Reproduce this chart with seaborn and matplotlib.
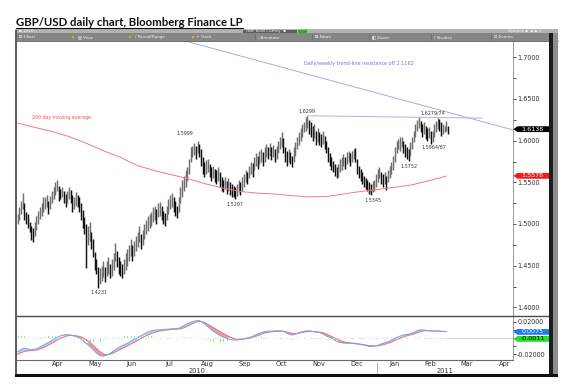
"""
GBP/USD daily bar chart with 200 day moving average and MACD panel
"""

import numpy as np
import pandas as pd
import matplotlib
matplotlib.use('Agg')
import matplotlib.pyplot as plt
import matplotlib.transforms as mtransforms
from matplotlib.patches import Rectangle, Polygon
from matplotlib.lines import Line2D
import seaborn as sns

# ---------------- data ----------------
start_date = '2010-03-15'

highs = [
    1.512, 1.520, 1.528, 1.537, 1.525, 1.515, 1.512, 1.503, 1.498, 1.495, 1.502, 1.510, 1.516,
    1.520, 1.525, 1.532, 1.532, 1.535, 1.528, 1.534, 1.540, 1.545, 1.550, 1.553, 1.546, 1.542, 1.545, 1.540, 1.536, 1.540, 1.545, 1.541, 1.535, 1.532, 1.538,
    1.535, 1.532, 1.525, 1.517, 1.508, 1.500, 1.498, 1.503, 1.490, 1.482, 1.466, 1.458, 1.448, 1.447, 1.450, 1.455, 1.448, 1.456, 1.460, 1.452, 1.458,
    1.465, 1.477, 1.468, 1.460, 1.455, 1.452, 1.458, 1.465, 1.470, 1.475, 1.482, 1.475, 1.480, 1.485, 1.490, 1.497, 1.488, 1.493, 1.500, 1.505, 1.510, 1.512,
    1.515, 1.520, 1.522, 1.518, 1.525, 1.527, 1.522, 1.516, 1.513, 1.522, 1.530, 1.535, 1.537, 1.532, 1.528, 1.522, 1.532, 1.545, 1.553, 1.558, 1.565, 1.568,
    1.578, 1.592, 1.594, 1.597, 1.594, 1.600, 1.596, 1.590, 1.580, 1.574, 1.577, 1.578, 1.572, 1.568, 1.570, 1.566, 1.565, 1.568, 1.562, 1.557, 1.553, 1.556,
    1.552, 1.555, 1.550, 1.548, 1.546, 1.545, 1.548, 1.553, 1.550, 1.556, 1.560, 1.565, 1.562, 1.570, 1.575, 1.573, 1.580, 1.585, 1.582, 1.588, 1.590, 1.586,
    1.592, 1.596, 1.593, 1.597, 1.592, 1.595, 1.590, 1.594, 1.600, 1.605, 1.610, 1.603, 1.592, 1.588, 1.590, 1.586, 1.582, 1.592, 1.598, 1.605, 1.610,
    1.615, 1.620, 1.622, 1.628, 1.630, 1.625, 1.622, 1.618, 1.620, 1.612, 1.615, 1.610, 1.608, 1.612, 1.606, 1.600, 1.592, 1.585, 1.580, 1.576, 1.572, 1.568,
    1.572, 1.578, 1.580, 1.584, 1.580, 1.586, 1.588, 1.585, 1.588, 1.590, 1.591, 1.578, 1.570, 1.566, 1.562, 1.558, 1.555, 1.553, 1.550, 1.548, 1.552, 1.553, 1.560,
    1.566, 1.568, 1.563, 1.560, 1.562, 1.558, 1.565, 1.570, 1.575, 1.582, 1.592, 1.600, 1.602, 1.604, 1.604, 1.600, 1.596, 1.592, 1.590, 1.598, 1.605,
    1.612, 1.620, 1.625, 1.6279, 1.624, 1.620, 1.622, 1.618, 1.615, 1.617, 1.612, 1.612, 1.620, 1.624, 1.6274, 1.626, 1.622, 1.620, 1.618, 1.624, 1.618,
]
lows = [
    1.500, 1.505, 1.512, 1.518, 1.505, 1.500, 1.495, 1.490, 1.481, 1.478, 1.485, 1.493, 1.500,
    1.506, 1.510, 1.514, 1.518, 1.520, 1.512, 1.518, 1.525, 1.530, 1.535, 1.540, 1.528, 1.530, 1.532, 1.525, 1.520, 1.525, 1.530, 1.525, 1.515, 1.518, 1.522,
    1.520, 1.515, 1.505, 1.495, 1.488, 1.447, 1.475, 1.480, 1.470, 1.460, 1.445, 1.440, 1.4231, 1.428, 1.432, 1.436, 1.430, 1.438, 1.440, 1.435, 1.438,
    1.445, 1.455, 1.448, 1.440, 1.437, 1.435, 1.440, 1.445, 1.450, 1.455, 1.462, 1.455, 1.462, 1.468, 1.472, 1.478, 1.470, 1.475, 1.482, 1.488, 1.492, 1.495,
    1.498, 1.502, 1.505, 1.500, 1.508, 1.510, 1.505, 1.500, 1.498, 1.505, 1.512, 1.518, 1.520, 1.515, 1.510, 1.507, 1.515, 1.525, 1.532, 1.540, 1.545, 1.552,
    1.560, 1.575, 1.580, 1.583, 1.578, 1.585, 1.580, 1.570, 1.560, 1.556, 1.560, 1.562, 1.556, 1.552, 1.555, 1.550, 1.548, 1.552, 1.545, 1.540, 1.538, 1.542,
    1.536, 1.540, 1.535, 1.532, 1.533, 1.5297, 1.534, 1.538, 1.535, 1.540, 1.545, 1.550, 1.548, 1.555, 1.560, 1.557, 1.565, 1.570, 1.566, 1.572, 1.575, 1.570,
    1.575, 1.580, 1.578, 1.582, 1.577, 1.580, 1.575, 1.578, 1.585, 1.590, 1.592, 1.585, 1.575, 1.570, 1.575, 1.572, 1.568, 1.575, 1.582, 1.590, 1.595,
    1.600, 1.605, 1.610, 1.612, 1.615, 1.608, 1.605, 1.600, 1.603, 1.595, 1.598, 1.595, 1.592, 1.596, 1.590, 1.585, 1.575, 1.570, 1.565, 1.562, 1.558, 1.555,
    1.557, 1.562, 1.565, 1.570, 1.566, 1.572, 1.575, 1.570, 1.574, 1.578, 1.575, 1.560, 1.555, 1.552, 1.548, 1.545, 1.542, 1.540, 1.536, 1.5345, 1.538, 1.540, 1.545,
    1.550, 1.555, 1.548, 1.545, 1.548, 1.541, 1.550, 1.555, 1.560, 1.565, 1.575, 1.585, 1.590, 1.588, 1.592, 1.585, 1.580, 1.578, 1.5752, 1.582, 1.590,
    1.598, 1.605, 1.612, 1.615, 1.610, 1.605, 1.608, 1.602, 1.600, 1.603, 1.5964, 1.5987, 1.605, 1.610, 1.614, 1.612, 1.606, 1.608, 1.610, 1.612, 1.608,
]

# 200 day moving average, every 10th session
ma_step = 10
ma_200 = [1.621, 1.616, 1.611, 1.605, 1.597, 1.588, 1.580, 1.570, 1.564, 1.559,
          1.554, 1.548, 1.543, 1.539, 1.537, 1.536, 1.534, 1.5325, 1.533, 1.536,
          1.539, 1.5415, 1.544, 1.547, 1.552, 1.5575]

# MACD and signal, every 2nd session
macd_step = 2
macd_line = [
    -0.0168, -0.0140, -0.0125, -0.0135, -0.0142, -0.0140, -0.0125, -0.0100, -0.0078, -0.0055,
    -0.0030, -0.0005, 0.0018, 0.0032, 0.0042, 0.0040, 0.0030, 0.0018, 0.0002, -0.0030,
    -0.0065, -0.0100, -0.0140, -0.0185, -0.0215, -0.0222, -0.0210, -0.0188, -0.0160, -0.0130,
    -0.0105, -0.0085, -0.0065, -0.0040, -0.0018, 0.0005, 0.0028, 0.0050, 0.0075, 0.0088,
    0.0095, 0.0100, 0.0102, 0.0105, 0.0110, 0.0112, 0.0115, 0.0120, 0.0140, 0.0165,
    0.0185, 0.0200, 0.0212, 0.0213, 0.0190, 0.0155, 0.0120, 0.0085, 0.0057, 0.0030,
    0.0010, -0.0004, -0.0018, -0.0025, -0.0025, -0.0018, -0.0008, 0.0002, 0.0012, 0.0030,
    0.0050, 0.0065, 0.0078, 0.0082, 0.0085, 0.0087, 0.0088, 0.0086, 0.0070, 0.0050,
    0.0037, 0.0045, 0.0065, 0.0078, 0.0086, 0.0088, 0.0082, 0.0072, 0.0068, 0.0050,
    0.0025, 0.0010, -0.0015, -0.0040, -0.0055, -0.0062, -0.0065, -0.0065, -0.0068, -0.0075,
    -0.0080, -0.0088, -0.0098, -0.0106, -0.0100, -0.0090, -0.0075, -0.0058, -0.0045, -0.0025,
    -0.0005, 0.0015, 0.0030, 0.0042, 0.0048, 0.0060, 0.0078, 0.0096, 0.0100, 0.0095,
    0.0088, 0.0086, 0.0085, 0.0082, 0.0080, 0.0078,
]
signal_line = [
    -0.0200, -0.0180, -0.0165, -0.0158, -0.0153, -0.0150, -0.0145, -0.0128, -0.0108, -0.0088,
    -0.0065, -0.0040, -0.0015, 0.0005, 0.0022, 0.0030, 0.0032, 0.0028, 0.0020, 0.0005,
    -0.0020, -0.0050, -0.0090, -0.0130, -0.0168, -0.0195, -0.0208, -0.0200, -0.0182, -0.0160,
    -0.0138, -0.0118, -0.0098, -0.0075, -0.0055, -0.0030, -0.0005, 0.0018, 0.0038, 0.0055,
    0.0070, 0.0082, 0.0090, 0.0096, 0.0100, 0.0105, 0.0108, 0.0110, 0.0118, 0.0135,
    0.0155, 0.0175, 0.0195, 0.0205, 0.0200, 0.0180, 0.0155, 0.0130, 0.0105, 0.0080,
    0.0055, 0.0032, 0.0012, -0.0005, -0.0015, -0.0015, -0.0012, -0.0006, 0.0002, 0.0015,
    0.0030, 0.0045, 0.0060, 0.0070, 0.0076, 0.0080, 0.0083, 0.0085, 0.0080, 0.0068,
    0.0057, 0.0052, 0.0058, 0.0068, 0.0076, 0.0080, 0.0080, 0.0076, 0.0072, 0.0065,
    0.0050, 0.0030, 0.0010, -0.0012, -0.0033, -0.0045, -0.0055, -0.0060, -0.0063, -0.0068,
    -0.0075, -0.0082, -0.0090, -0.0095, -0.0098, -0.0096, -0.0088, -0.0078, -0.0066, -0.0050,
    -0.0030, -0.0010, 0.0008, 0.0022, 0.0032, 0.0042, 0.0055, 0.0072, 0.0085, 0.0090,
    0.0090, 0.0088, 0.0086, 0.0084, 0.0082, 0.0080,
]

# trend lines (session number, price)
trend_sessions = [95.7, 289.0]
trend_prices = [1.7208, 1.6128]
resist_sessions = [169.0, 271.0]
resist_prices = [1.6299, 1.6270]

# text labels on the price panel
label_texts = ['1.4231', '1.5999', '1.5297', '1.6299', '1.6279/74', '1.5964/87', '1.5752', '1.5345']
label_sessions = [47.5, 97.7, 126.9, 168.8, 242.3, 242.8, 228.2, 207.2]
label_prices = [1.4172, 1.6080, 1.5234, 1.6350, 1.6326, 1.5918, 1.5690, 1.5288]

last_price = '1.6138'
last_ma = '1.5578'
last_macd = '0.0075'
last_hist = '-0.0011'
title = 'GBP/USD daily chart, Bloomberg Finance LP'

# ---------------- figure ----------------
sns.set_style('white')
plt.rcParams['font.family'] = ['DejaVu Sans']

W, H = 564, 391
fig = plt.figure(figsize=(W / 100, H / 100), dpi=100)


def fx(px):
    return px / W


def fy(py):
    return 1 - py / H


def rect(x0, y0, x1, y1, color, z=1):
    fig.add_artist(Rectangle((fx(x0), fy(y1)), (x1 - x0) / W, (y1 - y0) / H,
                             transform=fig.transFigure, fc=color, ec='none', zorder=z))


def hline(x0, x1, y, color, lw):
    fig.add_artist(Line2D([fx(x0), fx(x1)], [fy(y), fy(y)], transform=fig.transFigure,
                          color=color, lw=lw))


L, R = 16.7, 513
ax = fig.add_axes([fx(L), fy(316), (R - L) / W, (316 - 41) / H])
axm = fig.add_axes([fx(L), fy(360), (R - L) / W, (360 - 316) / H], sharex=ax)

n = len(highs)
sessions = np.arange(n)
dates = pd.bdate_range(start_date, periods=300)
xmax = 288.9

# bars: up sessions grey, down sessions black
mid = (np.array(highs) + np.array(lows)) / 2
up = np.r_[True, mid[1:] >= mid[:-1]]
bar_colors = np.where(up, '#6f6f6f', '#111111')
ax.vlines(sessions, lows, highs, colors=bar_colors, linewidth=1.05)

ma_x = np.arange(0, n, ma_step)[:len(ma_200)]
sns.lineplot(x=ma_x, y=ma_200, ax=ax, color='#f47a7a', linewidth=0.7, legend=False)

sns.lineplot(x=trend_sessions, y=trend_prices, ax=ax, color='#a9a9e6', linewidth=0.7, legend=False)
sns.lineplot(x=resist_sessions, y=resist_prices, ax=ax, color='#b0b0e8', linewidth=0.7, legend=False)

for t, s, p in zip(label_texts, label_sessions, label_prices):
    ax.text(s, p, t, fontsize=3.5, color='#3c3c3c', ha='center', va='center')

ax.text(8.4, 1.6272, '200 day moving average', fontsize=3.4, color='#ff4d4d', ha='left', va='center')
ax.text(167, 1.692, 'Daily/weekly trend-line resistance off 2.1162', fontsize=3.5,
        color='#7676d6', ha='left', va='center')

ax.set_xlim(-0.5, xmax)
ax.set_ylim(1.3896, 1.7196)
ax.yaxis.tick_right()
major = np.arange(1.40, 1.7001, 0.05)
ax.set_yticks(major)
ax.set_yticklabels([f'{v:.4f}' for v in major])
ax.set_yticks(major[:-1] + 0.025, minor=True)
ax.tick_params(axis='y', which='both', direction='out', length=2.2, width=0.6, pad=0.8,
               labelsize=4.7, labelcolor='#333333', color='#333333')
ax.tick_params(axis='x', which='both', bottom=False, labelbottom=False)
ax.set_xlabel('')
ax.set_ylabel('')
for side in ['top', 'left', 'bottom']:
    ax.spines[side].set_visible(False)
ax.spines['right'].set_color('#8a8a8a')
ax.spines['right'].set_linewidth(0.6)

# ---------------- MACD panel ----------------
mx = np.arange(0, n, macd_step)[:len(macd_line)]
macd = np.array(macd_line)
sig = np.array(signal_line)
hist = macd - sig
axm.axhline(0, color='#c8c8c8', lw=0.6, zorder=0)
axm.fill_between(mx, macd, sig, where=macd >= sig, interpolate=True, color='#bcd3f5', lw=0, zorder=1)
axm.fill_between(mx, macd, sig, where=macd < sig, interpolate=True, color='#f19a9a', lw=0, zorder=1)
axm.bar(mx, hist, width=1.1, color='#14d214', zorder=2)
sns.lineplot(x=mx, y=sig, ax=axm, color='#f07272', linewidth=0.75, legend=False, zorder=3)
sns.lineplot(x=mx, y=macd, ax=axm, color='#74a7f5', linewidth=0.75, legend=False, zorder=4)

axm.set_ylim(-0.027, 0.027)
axm.yaxis.tick_right()
axm.set_yticks([-0.02, 0.02])
axm.set_yticklabels(['-0.02000', '0.02000'])
axm.set_yticks([-0.01, 0.0, 0.01], minor=True)
axm.tick_params(axis='y', which='both', direction='out', length=2.2, width=0.6, pad=0.8,
                labelsize=4.7, labelcolor='#333333', color='#333333')
axm.set_xlabel('')
axm.set_ylabel('')
for side in ['top', 'left']:
    axm.spines[side].set_visible(False)
axm.spines['right'].set_color('#8a8a8a')
axm.spines['right'].set_linewidth(0.6)
axm.spines['bottom'].set_color('#6a6a6a')
axm.spines['bottom'].set_linewidth(0.8)

# month ticks and labels
month_id = dates.year * 12 + dates.month
starts = [i for i in range(1, len(dates)) if month_id[i] != month_id[i - 1]]
axm.set_xticks([s - 0.5 for s in starts if s < xmax])
axm.set_xticklabels([])
axm.tick_params(axis='x', direction='out', length=1.5, width=0.5, color='#555555')
xtrans = mtransforms.blended_transform_factory(axm.transData, axm.transAxes)
for a, b in zip(starts[:-1], starts[1:]):
    c = (a + b) / 2 - 0.5
    if c < xmax:
        axm.text(c, -0.095, dates[a].strftime('%b'), transform=xtrans, ha='center', va='center',
                 fontsize=4.8, color='#333333', clip_on=False)
year_start = [s for s in starts if dates[s].month == 1][0]
axm.text((year_start - 0.5) / 2, -0.255, str(dates[0].year), transform=xtrans, ha='center',
         va='center', fontsize=4.8, color='#333333', clip_on=False)
axm.text((year_start - 0.5 + xmax) / 2, -0.255, str(dates[year_start].year), transform=xtrans,
         ha='center', va='center', fontsize=4.8, color='#333333', clip_on=False)
axm.add_artist(Line2D([year_start - 0.5] * 2, [-0.05, -0.34], transform=xtrans,
                      color='#999999', lw=0.5, clip_on=False))


# value badges on the right axis
def badge(a, value, text, fc, tc):
    y0, y1 = a.get_ylim()
    hh = 2.9 * (y1 - y0) / (a.get_position().height * H)
    tr = mtransforms.blended_transform_factory(fig.transFigure, a.transData)
    pts = [[fx(513.5), value], [fx(517.5), value + hh], [fx(549), value + hh],
           [fx(549), value - hh], [fx(517.5), value - hh]]
    fig.add_artist(Polygon(pts, closed=True, transform=tr, fc=fc, ec='none', zorder=5))
    fig.text(fx(532.5), value, text, transform=tr, ha='center', va='center', fontsize=4.6,
             color=tc, zorder=6)


badge(ax, float(last_price), last_price, '#000000', 'white')
badge(ax, float(last_ma), last_ma, '#ee1c1c', 'white')
badge(axm, float(last_macd), last_macd, '#1e7bf0', 'white')
badge(axm, float(last_hist), last_hist, '#22e022', '#000000')

# ---------------- frame, toolbar, title ----------------
hline(16, 549, 316, '#4a4a4a', 1.0)
rect(14.5, 29.5, 17.2, 377, '#5c5c5c', 3)
rect(548.5, 33.3, 553, 377, '#1c1c1c', 3)
rect(553, 33.3, 557.5, 377, '#8e8e8e', 3)
rect(14.5, 374.3, 557.5, 377, '#111111', 3)

rect(14.5, 29.3, 557.5, 33.3, '#b2b2b2', 2)
rect(14.5, 33.3, 557.5, 40.8, '#868686', 2)
hline(14.5, 557.5, 40.6, '#5a5a5a', 0.6)
rect(243, 29.6, 297, 33.0, '#5e5e5e', 3)
rect(298, 29.6, 307, 33.0, '#1fb81f', 3)

tb = dict(fontsize=3.0, color='#f4f4f4', va='center', ha='left', zorder=4)
fig.text(fx(19), fy(31.3), '\u25aa 1010', **tb)
fig.text(fx(246), fy(31.3), 'GBP BGN Curncy  \u25aa', **tb)
fig.text(fx(508), fy(31.3), 'Options \u25aa  \u25aa \u25aa \u2715', **tb)
row2 = [(19, '\u22a1 Chart'), (78, '\u25a4 View'), (135, '\u2215 Period/Range'), (196, '+ Track'),
        (258, '\u2215 Annotate'), (315, '\u22a0 News'), (372, '\u25e7 Zoom'), (434, '\u2215 Studies'),
        (494, '\u22a1 Events')]
for px, t in row2:
    fig.text(fx(px), fy(37.2), t, **tb)
for px in [72.7, 130, 192.7]:
    rect(px - 1, 36.2, px + 1, 38.2, '#f0a020', 4)
for px in [255, 312, 369, 431, 491]:
    fig.add_artist(Line2D([fx(px)] * 2, [fy(34.3), fy(40)], transform=fig.transFigure,
                          color='#6a6a6a', lw=0.5))

fig.text(fx(16), fy(26.2), title, fontsize=8.2, fontweight='bold', family='Lato',
         va='baseline', ha='left', color='#111111')
hline(16, 243, 28.2, '#111111', 0.8)

plt.savefig('out.png', dpi=100)
